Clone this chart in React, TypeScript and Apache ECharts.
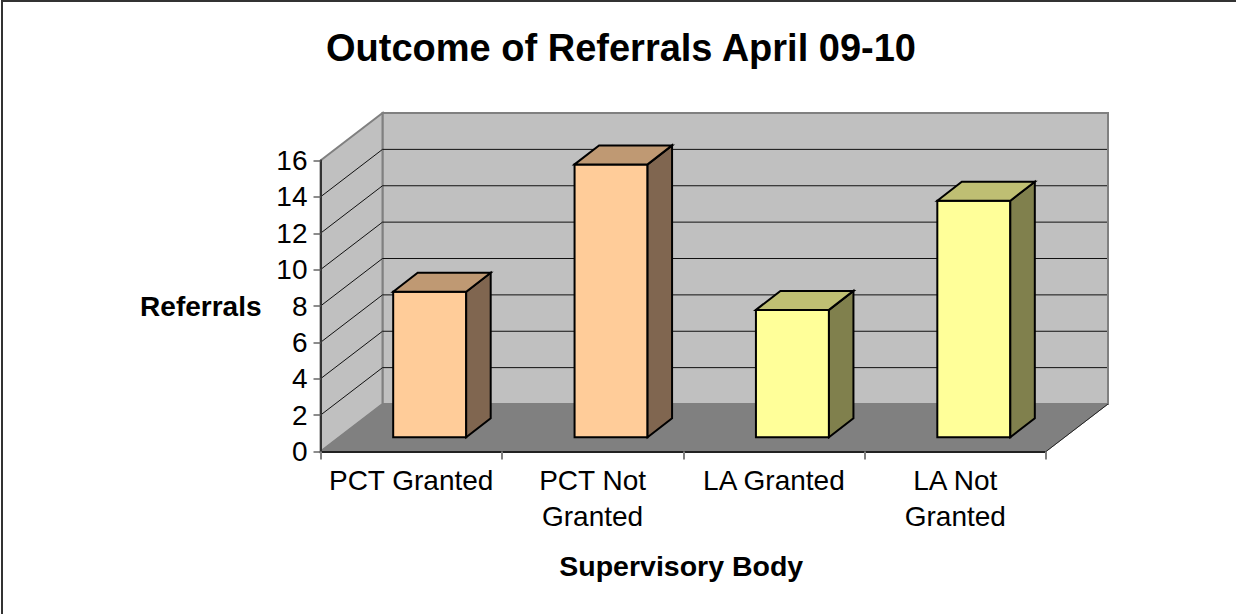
import React, { useEffect, useRef } from "react";
import * as echarts from "echarts";

const titleText = "Outcome of Referrals April 09-10";
const xAxisTitle = "Supervisory Body";
const yAxisTitle = "Referrals";
const categories = ["PCT Granted", "PCT Not\nGranted", "LA Granted", "LA Not\nGranted"];
const referrals = [8, 15, 7, 13];
const gridTicks = [2, 4, 6, 8, 10, 12, 14];

const FONT = '"Liberation Sans", Arial, sans-serif';
const WALL_DX = 62;
const WALL_DY = 47.5;
const BAR_SHIFT_X = 18.5;
const BAR_SHIFT_Y = 14.3;
const BAR_DEPTH_X = 24.5;
const BAR_DEPTH_Y = 19;
const BAR_WIDTH = 73;
const palette = [
  { front: "#FFCC99", top: "#BF9973", side: "#806650" },
  { front: "#FFCC99", top: "#BF9973", side: "#806650" },
  { front: "#FFFF99", top: "#BFBF73", side: "#80804D" },
  { front: "#FFFF99", top: "#BFBF73", side: "#80804D" },
];

function poly(points: number[][], fill: string, stroke: string, lineWidth: number) {
  return {
    type: "polygon",
    shape: { points },
    style: { fill, stroke, lineWidth, lineJoin: "miter" },
  };
}

export default function App() {
  const ref = useRef<HTMLDivElement>(null);
  useEffect(() => {
    const chart = echarts.init(ref.current!, null, { renderer: "svg" });
    chart.setOption({
      animation: false,
      backgroundColor: "#fff",
      title: {
        text: titleText,
        left: 616,
        top: 24,
        textAlign: "center",
        textStyle: { fontFamily: FONT, fontSize: 38, fontWeight: "bold", color: "#000" },
      },
      graphic: [
        { type: "rect", shape: { x: 1, y: 0, width: 2, height: 614 }, style: { fill: "#333" } },
        { type: "rect", shape: { x: 1, y: 0, width: 1235, height: 2 }, style: { fill: "#333" } },
      ],
      grid: { left: 320.5, top: 160.5, width: 725.5, height: 291 },
      xAxis: {
        type: "category",
        data: categories,
        name: xAxisTitle,
        nameLocation: "middle",
        nameGap: 100,
        nameTextStyle: { fontFamily: FONT, fontSize: 28.5, fontWeight: "bold", color: "#000", padding: [0, 4, 0, 0] },
        axisLine: { show: true, lineStyle: { color: "#222", width: 2 } },
        axisTick: { show: true, alignWithLabel: false, length: 8, lineStyle: { color: "#808080", width: 2 } },
        axisLabel: { fontFamily: FONT, fontSize: 28, color: "#000", lineHeight: 36, margin: 11, interval: 0 },
        splitLine: { show: false },
        z: 5,
      },
      yAxis: {
        type: "value",
        min: 0,
        max: 16,
        interval: 2,
        name: yAxisTitle,
        nameLocation: "middle",
        nameRotate: 0,
        nameGap: 59,
        nameTextStyle: { fontFamily: FONT, fontSize: 28, fontWeight: "bold", color: "#000" },
        axisLine: { show: true, lineStyle: { color: "#333", width: 2 } },
        axisTick: { show: true, length: 7, lineStyle: { color: "#666", width: 1.5 } },
        axisLabel: { fontFamily: FONT, fontSize: 28, color: "#000", margin: 13 },
        splitLine: { show: false },
        z: 5,
      },
      series: [
        {
          type: "custom",
          name: "walls",
          silent: true,
          clip: false,
          z: 1,
          data: [[0]],
          encode: { x: -1, y: -1 },
          renderItem: (params: any, api: any) => {
            const c = params.coordSys;
            const x0 = c.x;
            const x1 = c.x + c.width;
            const yT = c.y;
            const yB = c.y + c.height;
            return {
              type: "group",
              children: [
                poly([[x0 + WALL_DX, yT - WALL_DY], [x1 + WALL_DX, yT - WALL_DY], [x1 + WALL_DX, yB - WALL_DY], [x0 + WALL_DX, yB - WALL_DY]], "#C0C0C0", "#808080", 2),
                poly([[x0, yT], [x0 + WALL_DX, yT - WALL_DY], [x0 + WALL_DX, yB - WALL_DY], [x0, yB]], "#C0C0C0", "#808080", 2),
                poly([[x0, yB], [x0 + WALL_DX, yB - WALL_DY], [x1 + WALL_DX, yB - WALL_DY], [x1, yB]], "#808080", "#808080", 1),
                {
                  type: "line",
                  shape: { x1: x1, y1: yB, x2: x1 + WALL_DX, y2: yB - WALL_DY },
                  style: { stroke: "#222", lineWidth: 1 },
                },
              ],
            };
          },
        },
        {
          type: "custom",
          name: "gridlines",
          silent: true,
          clip: false,
          z: 2,
          data: gridTicks.map((v) => [0, v]),
          encode: { x: 0, y: 1 },
          renderItem: (params: any, api: any) => {
            const c = params.coordSys;
            const y = api.coord([0, api.value(1)])[1];
            return {
              type: "polyline",
              shape: {
                points: [
                  [c.x, y],
                  [c.x + WALL_DX, y - WALL_DY],
                  [c.x + c.width + WALL_DX - 1, y - WALL_DY],
                ],
              },
              style: { fill: "none", stroke: "#111", lineWidth: 1 },
            };
          },
        },
        {
          type: "custom",
          name: "Referrals",
          silent: true,
          clip: false,
          z: 3,
          data: referrals.map((v, i) => [i, v]),
          encode: { x: 0, y: 1 },
          renderItem: (params: any, api: any) => {
            const i = api.value(0);
            const top = api.coord([i, api.value(1)]);
            const base = api.coord([i, 0]);
            const col = palette[i];
            const l = top[0] + BAR_SHIFT_X - BAR_WIDTH / 2;
            const r = l + BAR_WIDTH;
            const t = top[1] - BAR_SHIFT_Y;
            const b = base[1] - BAR_SHIFT_Y;
            return {
              type: "group",
              children: [
                poly([[l, t], [r, t], [r, b], [l, b]], col.front, "#000", 2),
                poly([[r, t], [r + BAR_DEPTH_X, t - BAR_DEPTH_Y], [r + BAR_DEPTH_X, b - BAR_DEPTH_Y], [r, b]], col.side, "#000", 2),
                poly([[l, t], [l + BAR_DEPTH_X, t - BAR_DEPTH_Y], [r + BAR_DEPTH_X, t - BAR_DEPTH_Y], [r, t]], col.top, "#000", 2),
              ],
            };
          },
        },
      ],
    });
    return () => chart.dispose();
  }, []);
  return <div ref={ref} style={{ position: "absolute", left: 0, top: 0, width: 1236, height: 614 }} />;
}
